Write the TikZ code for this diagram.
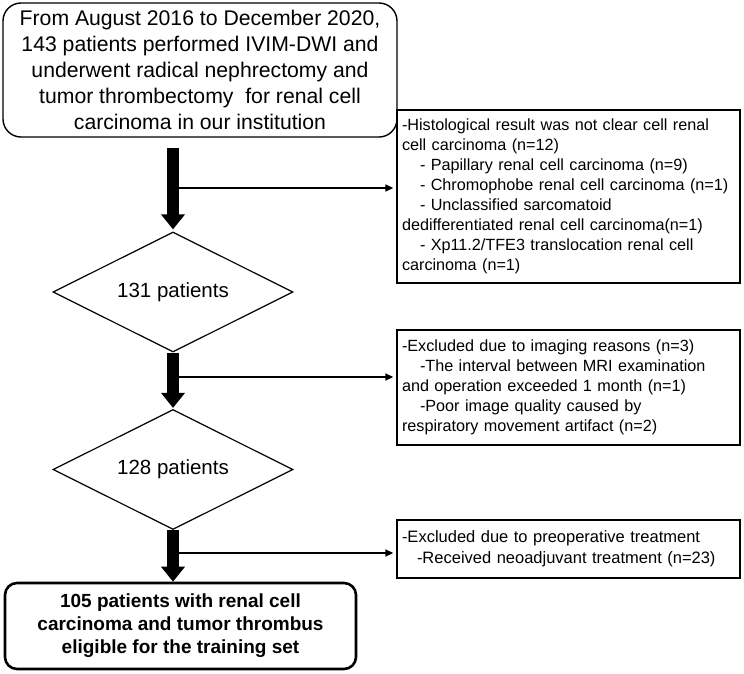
\documentclass[tikz,border=0pt]{standalone}
\usepackage{fontspec}
\setmainfont{Liberation Sans}
\usetikzlibrary{arrows.meta,shapes.geometric}
\begin{document}
\begin{tikzpicture}[x=1pt,y=-1pt,
  topbox/.style={draw, line width=1.4pt, rounded corners=18pt, align=center, inner sep=0pt,
    minimum width=394pt, minimum height=134pt, font=\fontsize{21.2}{26}\selectfont},
  endbox/.style={draw, line width=2.6pt, rounded corners=12pt, align=center, inner sep=0pt,
    minimum width=351pt, minimum height=86pt, font=\bfseries\fontsize{19}{23}\selectfont},
  sidebox/.style={draw, line width=1.3pt, align=left, inner sep=0pt,
    minimum width=343pt, text width=333pt, font=\fontsize{16.2}{20}\selectfont},
  dia/.style={draw, line width=1.2pt, diamond, aspect=2, inner sep=0pt,
    minimum width=240pt, minimum height=120pt, font=\fontsize{20.5}{24}\selectfont},
  bigarrow/.style={line width=12pt, -{Triangle[width=23pt,length=15pt]}},
  thinarrow/.style={line width=1.6pt, -{Triangle[width=7pt,length=8pt]}, shorten >=3pt}
]
\useasboundingbox (0,0) rectangle (744,673);
\fill[white] (0,0) rectangle (744,673);

\node[topbox] (top) at (200,70) {From August 2016 to December 2020,\\143 patients performed IVIM-DWI and\\underwent radical nephrectomy and\\tumor thrombectomy\ \ for renal cell\\carcinoma in our institution};

\node[dia] (d1) at (173,292) {131 patients};
\node[dia] (d2) at (173,469.5) {128 patients};

\node[endbox] (end) at (180.5,626) {105 patients with renal cell\\carcinoma and tumor thrombus\\eligible for the training set};

\node[sidebox, minimum height=173pt] (b1) at (568.5,196.5) {-Histological result was not clear cell renal\\cell carcinoma (n=12)\\\hspace*{18pt}- Papillary renal cell carcinoma (n=9)\\\hspace*{18pt}- Chromophobe renal cell carcinoma (n=1)\\\hspace*{18pt}- Unclassified sarcomatoid\\dedifferentiated renal cell carcinoma(n=1)\\\hspace*{18pt}- Xp11.2/TFE3 translocation renal cell\\carcinoma (n=1)};

\node[sidebox, minimum height=115pt] (b2) at (568.5,387.5) {-Excluded due to imaging reasons (n=3)\\\hspace*{18pt}-The interval between MRI examination\\and operation exceeded 1 month (n=1)\\\hspace*{18pt}-Poor image quality caused by\\respiratory movement artifact (n=2)};

\node[sidebox, minimum height=58pt, font=\fontsize{16.5}{21}\selectfont] (b3) at (568.5,549) {-Excluded due to preoperative treatment\\\hspace*{15pt}-Received neoadjuvant treatment (n=23)};

\draw[bigarrow, shorten >=2pt] ([yshift=-10pt]top.south -| d1.north) -- (d1.north);
\draw[bigarrow, shorten >=1pt] (d1.south) -- (d2.north);
\draw[bigarrow] (d2.south) -- (end.north -| d2.south);

\coordinate (h1) at (179,188);
\coordinate (h2) at (179,377);
\coordinate (h3) at (179,553);
\draw[thinarrow] (h1) -- (h1 -| b1.west);
\draw[thinarrow] (h2) -- (h2 -| b2.west);
\draw[thinarrow] (h3) -- (h3 -| b3.west);
\end{tikzpicture}
\end{document}
